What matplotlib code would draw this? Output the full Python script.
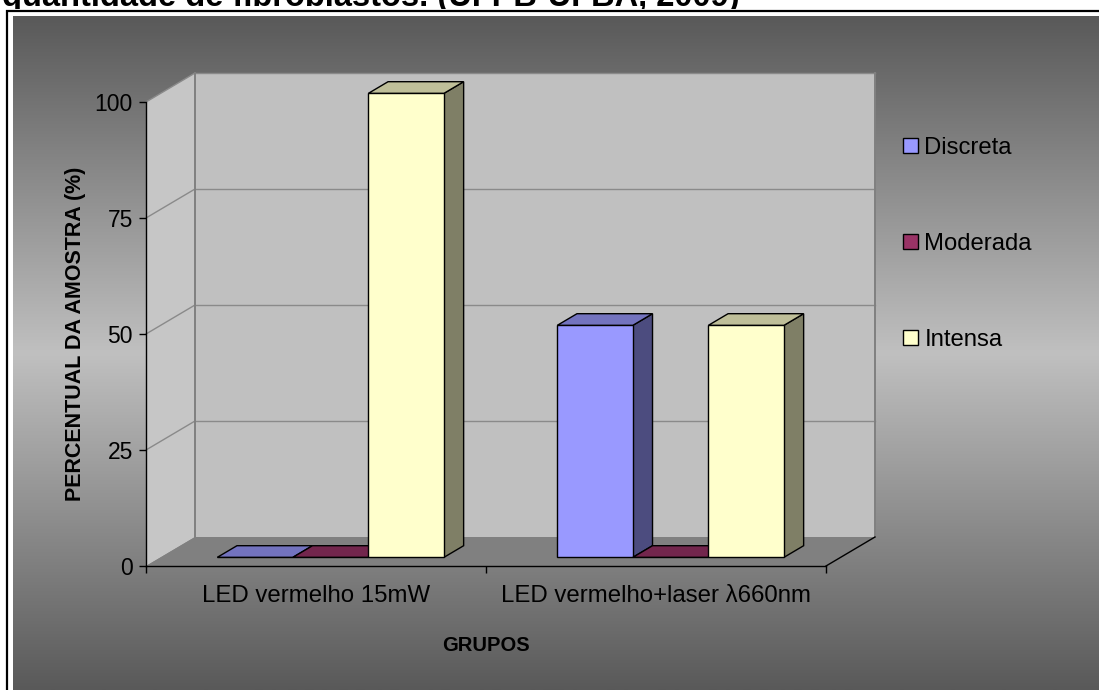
import numpy as np
import matplotlib
matplotlib.use('Agg')
import matplotlib.pyplot as plt
from matplotlib.patches import Polygon, Rectangle, Patch
from matplotlib.transforms import IdentityTransform
from matplotlib.lines import Line2D

# ---------------- data ----------------
categories = ['LED vermelho 15mW', 'LED vermelho+laser λ660nm']
series_names = ['Discreta', 'Moderada', 'Intensa']
discreta = [0, 50]
moderada = [0, 0]
intensa = [100, 50]
yticks = [0, 25, 50, 75, 100]
title_text = 'quantidade de fibroblastos. (UFPB-UFBA, 2009)'
xlabel_text = 'GRUPOS'
ylabel_text = 'PERCENTUAL DA AMOSTRA (%)'

# ---------------- style ----------------
front_colors = ['#9999ff', '#993366', '#ffffcc']
side_colors = ['#4c4c7f', '#4c1933', '#7f7f66']
top_colors = ['#7373bf', '#73264d', '#bfbf99']

plt.rcParams['font.family'] = ['Liberation Sans', 'DejaVu Sans']

W, H = 1099, 690
fig = plt.figure(figsize=(W / 100, H / 100), dpi=100)
fig.patch.set_facecolor('white')

# background axes in pixel coordinates
bg = fig.add_axes([0, 0, 1, 1])
bg.set_xlim(0, W)
bg.set_ylim(H, 0)
bg.axis('off')

# title (cut off at top of image, as in the reference)
bg.text(2, 6, title_text, fontsize=23.5, fontweight='bold', ha='left',
        va='baseline', color='black', zorder=1)
# white frame area covering descenders
bg.add_patch(Rectangle((0, 9), W, H, facecolor='white', edgecolor='none', zorder=2))
# gradient background
ys = np.arange(16, H + 1)
vals = 89 + (192 - 89) * (1 - np.abs(ys - 353) / 337.0)
grad = np.clip(vals, 0, 255)[:, None] / 255.0
img = np.repeat(grad[:, :, None], 3, axis=2)
bg.imshow(img, extent=(12.5, W, H, 16), aspect='auto', zorder=3, interpolation='bilinear')
bg.set_xlim(0, W)
bg.set_ylim(H, 0)
# border
bg.add_line(Line2D([6.5, 6.5, W], [H, 10.8, 10.8], color='black', lw=1.6,
                   zorder=4, solid_joinstyle='miter'))

# ---------------- main axes (front plane) ----------------
ax = fig.add_axes([146 / W, (H - 566) / H, 680 / W, 464 / H])
ax.set_xlim(0, 2)
ax.set_ylim(0, 100)
ax.patch.set_visible(False)
for s in ['top', 'right']:
    ax.spines[s].set_visible(False)
for s in ['left', 'bottom']:
    ax.spines[s].set_color('black')
    ax.spines[s].set_linewidth(1.0)
    ax.spines[s].set_zorder(10)

depth = np.array([49.0, 29.0])


def P(x, y, d):
    p = ax.transData.transform((x, y))
    return p + d * depth


def poly(pts, fc, ec='none', lw=0.0, z=1):
    pg = Polygon(np.array(pts), closed=True, facecolor=fc, edgecolor=ec,
                 linewidth=lw, transform=IdentityTransform(), zorder=z,
                 clip_on=False, joinstyle='miter')
    ax.add_patch(pg)


def line(p0, p1, color, lw, z):
    l = Line2D([p0[0], p1[0]], [p0[1], p1[1]], color=color, linewidth=lw,
               transform=IdentityTransform(), zorder=z, clip_on=False)
    ax.add_line(l)


ncat = len(categories)
ymax = yticks[-1]
# back wall
poly([P(0, 0, 1), P(ncat, 0, 1), P(ncat, ymax, 1), P(0, ymax, 1)], '#c0c0c0', z=0.5)
# left wall
poly([P(0, 0, 0), P(0, 0, 1), P(0, ymax, 1), P(0, ymax, 0)], '#c6c6c6', z=0.5)
# floor
poly([P(0, 0, 0), P(ncat, 0, 0), P(ncat, 0, 1), P(0, 0, 1)], '#808080', z=0.7)
# gridlines
for v in yticks[1:]:
    line(P(0, v, 1), P(ncat, v, 1), '#8a8a8a', 1.0, 0.6)
    line(P(0, v, 0), P(0, v, 1), '#8a8a8a', 1.0, 0.6)
# wall edges
line(P(0, 0, 1), P(0, ymax, 1), '#808080', 1.4, 0.65)
line(P(ncat, 0, 1), P(ncat, ymax, 1), '#808080', 1.4, 0.65)
# floor right edge
line(P(ncat, 0, 0), P(ncat, 0, 1), 'black', 1.0, 0.8)

# bars
values = [discreta, moderada, intensa]
nser = len(series_names)
gap = 1.5
bw = 1.0 / (nser + gap)
d0, d1 = 0.3, 0.7
z = 2
for c in range(ncat):
    for s in range(nser):
        v = values[s][c]
        x0 = c + gap * bw / 2 + s * bw
        x1 = x0 + bw
        # side
        poly([P(x1, 0, d0), P(x1, 0, d1), P(x1, v, d1), P(x1, v, d0)],
             side_colors[s], 'black', 1.0, z)
        # front
        poly([P(x0, 0, d0), P(x1, 0, d0), P(x1, v, d0), P(x0, v, d0)],
             front_colors[s], 'black', 1.0, z + 0.1)
        # top
        poly([P(x0, v, d0), P(x1, v, d0), P(x1, v, d1), P(x0, v, d1)],
             top_colors[s], 'black', 1.0, z + 0.2)
        z += 1

# ticks
ax.set_yticks(yticks)
ax.set_yticklabels([str(t) for t in yticks])
ax.tick_params(axis='y', direction='out', length=5, width=1, color='black',
               labelsize=16.5, pad=4.5, labelcolor='black')
ax.set_xticks(range(ncat + 1))
ax.set_xticklabels([''] * (ncat + 1))
ax.tick_params(axis='x', which='major', direction='out', length=5, width=1,
               color='black')
ax.set_xticks([c + 0.5 for c in range(ncat)], minor=True)
ax.set_xticklabels(categories, minor=True)
ax.tick_params(axis='x', which='minor', length=0, labelsize=17.3, pad=13.5,
               labelcolor='black')

ax.set_xlabel(xlabel_text, fontsize=14.5, fontweight='bold')
ax.xaxis.set_label_coords(0.5, (566 - 636) / 464)
ax.set_ylabel(ylabel_text, fontsize=15.5, fontweight='bold')
ax.yaxis.label.set_va('center')
ax.yaxis.set_label_coords((76 - 146) / 680, 0.5)

# legend
handles = [Patch(facecolor=front_colors[i], edgecolor='black', linewidth=1.0,
                 label=series_names[i]) for i in range(nser)]
leg = fig.legend(handles=handles, loc='center left',
                 bbox_to_anchor=(903 / W, (H - 244) / H), frameon=False,
                 fontsize=17.2, handlelength=0.62, handleheight=0.62,
                 handletextpad=0.28, labelspacing=3.1, borderpad=0,
                 borderaxespad=0)

fig.savefig('out.png', dpi=100)
